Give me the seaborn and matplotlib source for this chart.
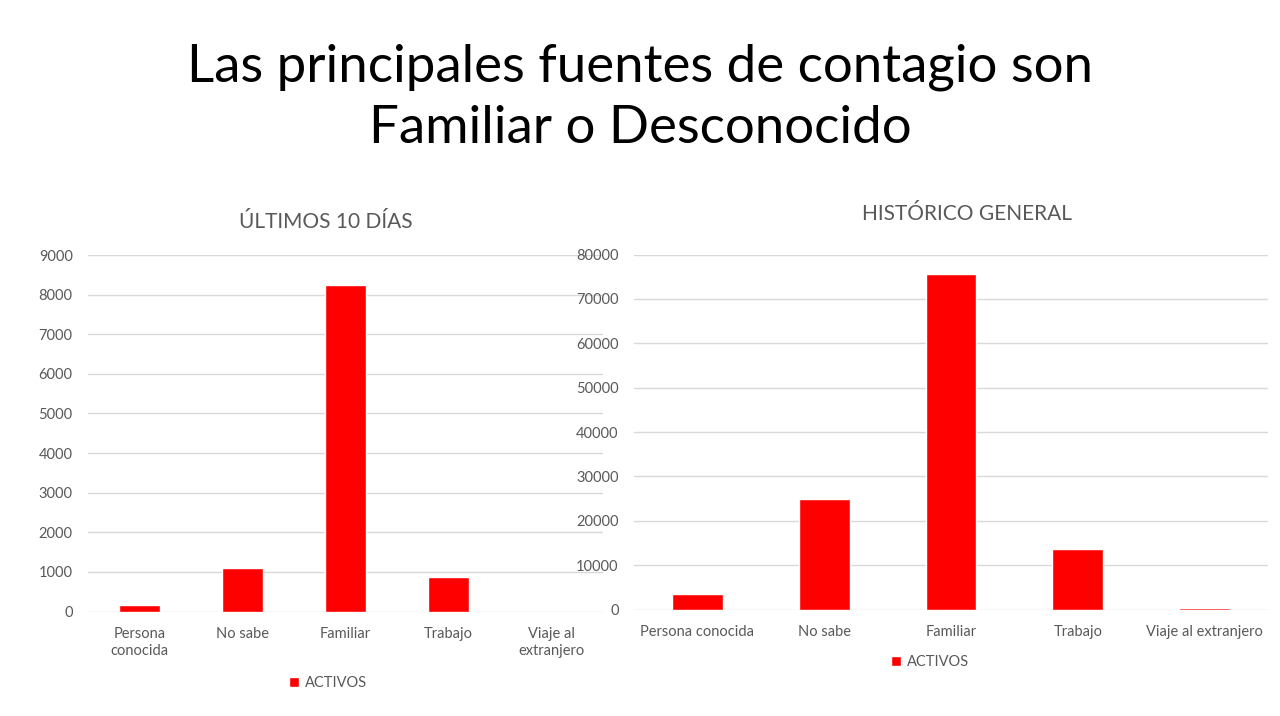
import matplotlib
matplotlib.use("Agg")
import matplotlib.pyplot as plt
import seaborn as sns
import pandas as pd

categories = ["Persona conocida", "No sabe", "Familiar", "Trabajo", "Viaje al extranjero"]
left_ticklabels = ["Persona\nconocida", "No sabe", "Familiar", "Trabajo", "Viaje al\nextranjero"]
right_ticklabels = ["Persona conocida", "No sabe", "Familiar", "Trabajo", "Viaje al extranjero"]
ultimos_10_dias = [170, 1110, 8250, 870, 0]
historico_general = [3600, 25000, 75500, 13700, 250]
series_name = "ACTIVOS"
left_ticks = [0, 1000, 2000, 3000, 4000, 5000, 6000, 7000, 8000, 9000]
right_ticks = [0, 10000, 20000, 30000, 40000, 50000, 60000, 70000, 80000]

sns.set_theme(style="white")
plt.rcParams["font.family"] = ["Lato", "DejaVu Sans"]

GREY = "#595959"
GRID = "#d9d9d9"
RED = "#ff0000"

fig = plt.figure(figsize=(12.8, 7.16), dpi=100)
W, H = 1280, 716

def axes_px(x0, x1, ytop, ybot):
    return fig.add_axes([x0 / W, (H - ybot) / H, (x1 - x0) / W, (ybot - ytop) / H])

ax1 = axes_px(88, 603, 255, 611.5)
ax2 = axes_px(634, 1268, 254.5, 609.5)

df1 = pd.DataFrame({"cat": categories, "val": ultimos_10_dias})
df2 = pd.DataFrame({"cat": categories, "val": historico_general})

for ax, df, ticks, labels in [(ax1, df1, left_ticks, left_ticklabels),
                              (ax2, df2, right_ticks, right_ticklabels)]:
    sns.barplot(data=df, x="cat", y="val", color=RED, saturation=1, width=0.4,
                label=series_name, ax=ax, zorder=3)
    ax.set_ylim(ticks[0], ticks[-1])
    ax.set_yticks(ticks)
    ax.set_yticklabels([str(t) for t in ticks])
    ax.set_xlim(-0.5, len(categories) - 0.5)
    ax.set_xticks(range(len(categories)))
    ax.set_xticklabels(labels)
    ax.set_xlabel("")
    ax.set_ylabel("")
    for s in ax.spines.values():
        s.set_visible(False)
    ax.yaxis.grid(True, color=GRID, linewidth=1.0, zorder=0)
    ax.set_axisbelow(True)
    ax.tick_params(axis="both", colors=GREY, labelsize=10.5, length=0)
    ax.tick_params(axis="x", pad=11.5)
    ax.tick_params(axis="y", pad=11)
    ax.set_facecolor("none")

leg_kw = dict(frameon=False, handlelength=0.7, handleheight=0.7, handletextpad=0.4,
              fontsize=10.5, labelcolor=GREY, loc="center")
ax1.legend(bbox_to_anchor=(328 / W, (H - 683) / H), bbox_transform=fig.transFigure, **leg_kw)
ax2.legend(bbox_to_anchor=(930 / W, (H - 662) / H), bbox_transform=fig.transFigure, **leg_kw)

fig.text(326 / W, (H - 222) / H, "ÚLTIMOS 10 DÍAS", ha="center", va="center",
         fontsize=15, color=GREY)
fig.text(967 / W, (H - 214) / H, "HISTÓRICO GENERAL", ha="center", va="center",
         fontsize=15, color=GREY)

fig.text(0.5, (H - 81.5) / H, "Las principales fuentes de contagio son", ha="center",
         va="baseline", fontsize=38, color="black")
fig.text(0.5, (H - 143) / H, "Familiar o Desconocido", ha="center",
         va="baseline", fontsize=38, color="black")

fig.savefig("out.png", dpi=100)
